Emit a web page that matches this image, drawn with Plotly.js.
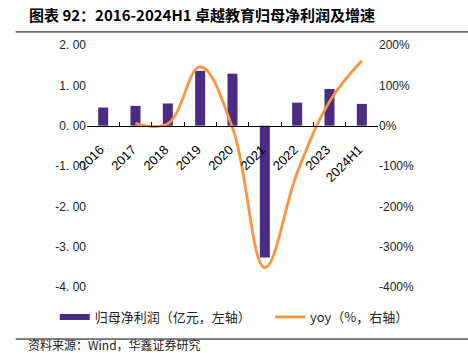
<!DOCTYPE html>
<html><head><meta charset="utf-8">
<script src="https://cdn.plot.ly/plotly-3.0.1.min.js"></script>
<style>body{margin:0;padding:0;background:#fff}#c{width:468px;height:353px}</style>
</head><body><div id="c"></div>
<script>
var categories = ['2016','2017','2018','2019','2020','2021','2022','2023','2024H1'];
var profit = [0.45, 0.49, 0.55, 1.36, 1.29, -3.27, 0.57, 0.91, 0.54];
var yoyCats = ['2017','2018','2019','2020','2021','2022','2023','2024H1'];
var yoy = [6, 5, 146, -5, -352, -117, 60, 161];
var leftTicks = [2, 1, 0, -1, -2, -3, -4];
var leftTickText = ['2. 00','1. 00','0. 00','-1. 00','-2. 00','-3. 00','-4. 00'];
var rightTicks = [200, 100, 0, -100, -200, -300, -400];
var rightTickText = ['200%','100%','0%','-100%','-200%','-300%','-400%'];

var font = 'Liberation Sans, Arial, sans-serif';
var cjk = 'Noto Sans CJK SC, sans-serif';
var barColor = '#4B2C84';
var lineColor = '#F7963F';

var traces = [
  {type:'bar', x:categories, y:profit, name:'归母净利润（亿元，左轴）', showlegend:false,
   marker:{color:barColor}, width:0.31, yaxis:'y'},
  {type:'scatter', mode:'lines', x:[null], y:[null], name:'归母净利润（亿元，左轴）',
   line:{color:barColor, width:6}, yaxis:'y', legend:'legend'},
  {type:'scatter', mode:'lines', x:yoyCats, y:yoy, name:'yoy（%，右轴）',
   line:{color:lineColor, width:2.8, shape:'spline', smoothing:1.1}, yaxis:'y2', legend:'legend2'}
];

var legBase = {orientation:'h', xref:'container', yref:'container', xanchor:'left', y:0.102, yanchor:'middle',
    font:{family:cjk, size:13, color:'#222'}, itemwidth:30, bgcolor:'rgba(0,0,0,0)'};
var leg1 = Object.assign({}, legBase, {x:0.117});
var leg2 = Object.assign({}, legBase, {x:0.577});

var layout = {
  width:468, height:353,
  margin:{l:87, r:90, t:45, b:66, autoexpand:false},
  paper_bgcolor:'#fff', plot_bgcolor:'rgba(0,0,0,0)',
  showlegend:true,
  legend:leg1, legend2:leg2,
  xaxis:{type:'category', anchor:'free', position:4/6, showline:true, linecolor:'#000', linewidth:1.3,
    ticks:'inside', ticklen:4, tickcolor:'#000', tickson:'boundaries', tickangle:-45,
    ticklabelstandoff:10, ticklabelshift:-3,
    tickfont:{family:font, size:13, color:'#000'}, showgrid:false, zeroline:false,
    range:[-0.5, 8.5], automargin:false},
  yaxis:{range:[-4, 2], tickvals:leftTicks, ticktext:leftTickText, showgrid:false, zeroline:false,
    showline:false, ticks:'', tickfont:{family:font, size:12, color:'#222'}, domain:[0,1], automargin:false},
  yaxis2:{range:[-400, 200], overlaying:'y', side:'right', tickvals:rightTicks, ticktext:rightTickText,
    showgrid:false, zeroline:false, showline:false, ticks:'', tickfont:{family:font, size:12, color:'#222'}, automargin:false},
  annotations:[
    {xref:'paper', yref:'paper', x:-0.205, y:1.124, xanchor:'left', yanchor:'middle', showarrow:false,
     text:'<b>图表 92：2016-2024H1 卓越教育归母净利润及增速</b>', font:{family:cjk, size:15, color:'#000'}},
    {xref:'paper', yref:'paper', x:-0.21, y:-0.238, xanchor:'left', yanchor:'middle', showarrow:false,
     text:'资料来源：Wind，华鑫证券研究', font:{family:cjk, size:12, color:'#222'}}
  ],
  shapes:[
    {type:'line', xref:'paper', yref:'paper', x0:-0.245, x1:1.31, y0:1.054, y1:1.054, line:{color:'#000', width:1}},
    {type:'line', xref:'paper', yref:'paper', x0:-0.245, x1:1.31, y0:-0.215, y1:-0.215, line:{color:'#000', width:1}}
  ]
};
Plotly.newPlot('c', traces, layout, {displayModeBar:false, staticPlot:true});
</script></body></html>
